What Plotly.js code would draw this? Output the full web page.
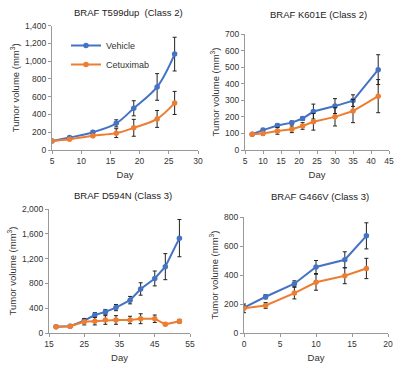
<!DOCTYPE html>
<html><head><meta charset="utf-8">
<script src="https://cdn.plot.ly/plotly-3.0.1.min.js"></script>
<style>html,body{margin:0;padding:0;background:#fff}#c{width:396px;height:367px}</style>
</head><body><div id="c"></div>
<script>
// Panel 1: BRAF T599dup (Class 2)
const days1 = [5, 8, 12, 16, 19, 23, 26];
const veh1 = [100, 140, 200, 300, 470, 710, 1080];
const vehErr1 = [5, 12, 20, 40, 85, 150, 190];
const cet1 = [100, 120, 160, 190, 250, 350, 530];
const cetErr1 = [5, 10, 20, 50, 95, 95, 130];

// Panel 2: BRAF K601E (Class 2)
const days2 = [7, 10, 14, 18, 21, 24, 30, 35, 42];
const veh2 = [95, 120, 148, 165, 190, 232, 265, 298, 485];
const vehErr2 = [5, 10, 10, 10, 12, 45, 45, 35, 90];
const cet2 = [95, 100, 115, 125, 145, 170, 200, 235, 325];
const cetErr2 = [5, 10, 20, 20, 20, 50, 55, 70, 100];

// Panel 3: BRAF D594N (Class 3)
const days3 = [17, 21, 25, 28, 31, 34, 38, 41, 45, 48, 52];
const veh3 = [100, 110, 200, 290, 340, 410, 530, 710, 880, 1070, 1530];
const vehErr3 = [5, 5, 30, 40, 40, 50, 60, 100, 120, 210, 300];
const cet3 = [100, 110, 180, 190, 210, 210, 210, 230, 230, 140, 190];
const cetErr3 = [5, 5, 50, 60, 70, 70, 60, 80, 60, 20, 30];

// Panel 4: BRAF G466V (Class 3)
const days4 = [0, 3, 7, 10, 14, 17];
const veh4 = [175, 250, 340, 455, 505, 670];
const vehErr4 = [10, 15, 20, 45, 55, 90];
const cet4 = [170, 190, 275, 350, 395, 445];
const cetErr4 = [30, 20, 40, 55, 55, 70];

const titles = ["BRAF T599dup  (Class 2)", "BRAF K601E (Class 2)", "BRAF D594N (Class 3)", "BRAF G466V (Class 3)"];
const seriesNames = ["Vehicle", "Cetuximab"];

const BLUE = "#4472C4", ORANGE = "#ED7D31";
const panels = [
  {d: days1, v: veh1, ve: vehErr1, c: cet1, ce: cetErr1, shape: "spline"},
  {d: days2, v: veh2, ve: vehErr2, c: cet2, ce: cetErr2, shape: "linear"},
  {d: days3, v: veh3, ve: vehErr3, c: cet3, ce: cetErr3, shape: "linear"},
  {d: days4, v: veh4, ve: vehErr4, c: cet4, ce: cetErr4, shape: "linear"}
];

const W = 396, H = 367;
// pixel boxes [x0, x1, yTop, yBottom]
const boxes = [[52, 198, 25.7, 150], [245, 389, 34, 150], [49, 190, 209, 333], [244, 388, 217, 333]];
const xr = [[5, 30], [5, 45], [15, 55], [0, 20]];
const xd = [5, 5, 10, 5];
const x0 = [0, 0, 15, 0];
const yr = [[0, 1400], [0, 700], [0, 2000], [0, 800]];
const yd = [200, 100, 400, 200];

const traces = [];
const layout = {
  width: W, height: H, margin: {l: 0, r: 0, t: 0, b: 0},
  paper_bgcolor: "#fff", plot_bgcolor: "#fff",
  font: {family: "Liberation Sans, Arial, sans-serif", size: 8.5, color: "#333"},
  showlegend: true,
  legend: {x: 66 / W, y: 1 - 31 / H, xanchor: "left", yanchor: "top", font: {size: 9, color: "#333"},
           bgcolor: "rgba(0,0,0,0)", tracegroupgap: 2, itemwidth: 30},
  annotations: []
};

const tpos = [[128, 13], [318, 14], [123, 195], [320, 196]];

panels.forEach((p, i) => {
  const n = i + 1;
  const xa = n === 1 ? "x" : "x" + n, ya = n === 1 ? "y" : "y" + n;
  const b = boxes[i];
  [[p.v, p.ve, BLUE, seriesNames[0]], [p.c, p.ce, ORANGE, seriesNames[1]]].forEach(([vals, err, col, name]) => {
    traces.push({
      x: p.d, y: vals, xaxis: xa, yaxis: ya, name: name, showlegend: i === 0,
      type: "scatter", mode: "lines+markers",
      line: {color: col, width: 2, shape: p.shape},
      marker: {color: col, size: 5.5},
      error_y: {type: "data", array: err, visible: true, color: "#222", thickness: 1, width: 2}
    });
  });
  const axCommon = {showgrid: false, zeroline: false, showline: true, linecolor: "#999", linewidth: 1,
                    ticks: "outside", ticklen: 3, tickcolor: "#999", tickfont: {size: 8.5, color: "#333"}};
  layout["xaxis" + (n === 1 ? "" : n)] = Object.assign({}, axCommon, {
    domain: [b[0] / W, b[1] / W], anchor: ya, range: xr[i], dtick: xd[i], tick0: x0[i],
    title: {text: "Day", font: {size: 9.5, color: "#333"}, standoff: 6}
  });
  layout["yaxis" + (n === 1 ? "" : n)] = Object.assign({}, axCommon, {
    domain: [1 - b[3] / H, 1 - b[2] / H], anchor: xa, range: yr[i], dtick: yd[i], tickformat: ",d",
    title: {text: "Tumor volume (mm<sup>3</sup>)", font: {size: 9.5, color: "#333"}, standoff: 3}
  });
  layout.annotations.push({text: titles[i], xref: "paper", yref: "paper", x: tpos[i][0] / W, y: 1 - tpos[i][1] / H,
    xanchor: "center", yanchor: "middle", showarrow: false, font: {size: 9.5, color: "#222"}});
});

Plotly.newPlot("c", traces, layout, {displayModeBar: false, staticPlot: true});
</script></body></html>
